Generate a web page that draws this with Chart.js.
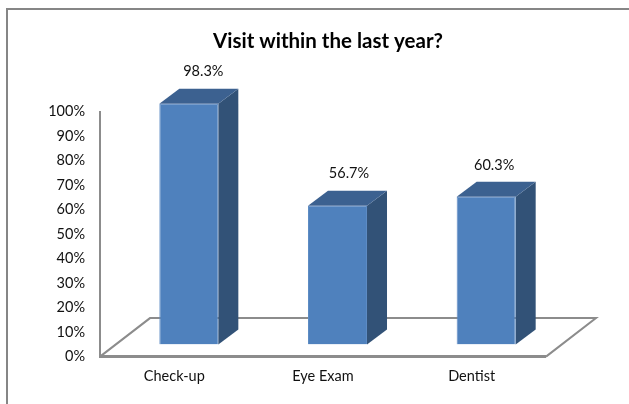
<!DOCTYPE html>
<html>
<head>
<meta charset="utf-8">
<style>
  html, body { margin: 0; padding: 0; background: #fff; overflow: hidden; }
  #wrap { position: relative; width: 629px; height: 404px; }
  #frame { position: absolute; left: 6px; top: 8px; right: -4px; bottom: -4px; border: 2px solid #868686; }
  canvas { position: absolute; left: 0; top: 0; }
</style>
<script src="https://cdn.jsdelivr.net/npm/chart.js@4"></script>
</head>
<body>
<div id="wrap">
  <div id="frame"></div>
  <canvas id="chart" width="629" height="404"></canvas>
</div>
<script>
const categories = ["Check-up", "Eye Exam", "Dentist"];
const visits = [98.3, 56.7, 60.3];
const titleText = "Visit within the last year?";

/* 3D LOOK */
const barShift = { x: 14.5, y: -12 };
const depth = { x: 20, y: -15 };
const floorDepth = { x: 50, y: -38.5 };
const labelNudge = [14.5, 11.5, 8];
const faceColor = "#4f81bd";
const sideColor = "#325277";
const topColor = "#3c6190";
const edgeColor = "#5e8cc4";
const lineColor = "#8c8c8c";
const textColor = "#111";
const fontName = "Lato, Carlito, sans-serif";

function poly(ctx, pts, color) {
    ctx.beginPath();
    pts.forEach((p, i) => i ? ctx.lineTo(p[0], p[1]) : ctx.moveTo(p[0], p[1]));
    ctx.closePath();
    ctx.fillStyle = color;
    ctx.fill();
}

/* floor goes under the bars, side and top faces are hung on the bar elements */
const fake3d = {
    id: "fake3d",
    beforeDatasetsDraw(chart) {
        let ctx = chart.ctx;
        let a = chart.chartArea;
        ctx.save();
        ctx.strokeStyle = lineColor;
        ctx.lineWidth = 2;
        ctx.beginPath();
        ctx.moveTo(a.left, a.bottom);
        ctx.lineTo(a.left + floorDepth.x, a.bottom + floorDepth.y);
        ctx.lineTo(a.right + floorDepth.x, a.bottom + floorDepth.y);
        ctx.lineTo(a.right, a.bottom);
        ctx.stroke();
        ctx.lineWidth = 3;
        ctx.beginPath();
        ctx.moveTo(a.left - 1, a.bottom);
        ctx.lineTo(a.right, a.bottom);
        ctx.stroke();
        ctx.restore();

        ctx.save();
        ctx.translate(barShift.x, barShift.y);
        chart.getDatasetMeta(0).data.forEach(bar => {
            let l = bar.x - bar.width / 2;
            let r = bar.x + bar.width / 2;
            poly(ctx, [[r, bar.y], [r + depth.x, bar.y + depth.y], [r + depth.x, bar.base + depth.y], [r, bar.base]], sideColor);
            poly(ctx, [[l, bar.y], [l + depth.x, bar.y + depth.y], [r + depth.x, bar.y + depth.y], [r, bar.y]], topColor);
        });
    },
    afterDatasetsDraw(chart) {
        let ctx = chart.ctx;
        ctx.restore();
        ctx.save();
        ctx.font = "14.5px " + fontName;
        ctx.fillStyle = textColor;
        ctx.textAlign = "center";
        ctx.textBaseline = "middle";
        chart.getDatasetMeta(0).data.forEach((bar, i) => {
            ctx.fillText(visits[i].toFixed(1) + "%", bar.x + barShift.x + labelNudge[i], bar.y + barShift.y + depth.y - 17);
        });
        ctx.restore();
    }
};

new Chart(document.getElementById("chart"), {
    type: "bar",
    data: {
        labels: categories,
        datasets: [{
            data: visits,
            backgroundColor: faceColor,
            borderColor: edgeColor,
            borderWidth: 1,
            barPercentage: 0.397,
            categoryPercentage: 1
        }]
    },
    options: {
        responsive: false,
        animation: false,
        layout: { padding: { left: 27, right: 0, top: 0, bottom: 8 } },
        plugins: {
            legend: { display: false },
            tooltip: { enabled: false },
            title: {
                display: true,
                text: titleText,
                color: "#000",
                font: { family: fontName, size: 20.5, weight: "bold" },
                padding: { top: 29, bottom: 58 }
            }
        },
        scales: {
            x: {
                grid: { display: false, drawTicks: false },
                border: { display: false },
                ticks: { color: textColor, font: { family: fontName, size: 14.5 }, padding: 11, maxRotation: 0 }
            },
            y: {
                min: 0,
                max: 100,
                grid: { display: false, drawTicks: false },
                border: { display: true, color: lineColor, width: 2 },
                afterFit(scale) { scale.width = 73; },
                ticks: {
                    stepSize: 10,
                    color: textColor,
                    font: { family: fontName, size: 14.5 },
                    padding: 15,
                    callback: v => v + "%"
                }
            },
            /* empty axis, only keeps the plot clear of the right side so the title stays centred */
            spacer: {
                position: "right",
                grid: { display: false, drawTicks: false },
                border: { display: false },
                ticks: { display: false },
                afterFit(scale) { scale.width = 83; }
            }
        }
    },
    plugins: [fake3d]
});
</script>
</body>
</html>
